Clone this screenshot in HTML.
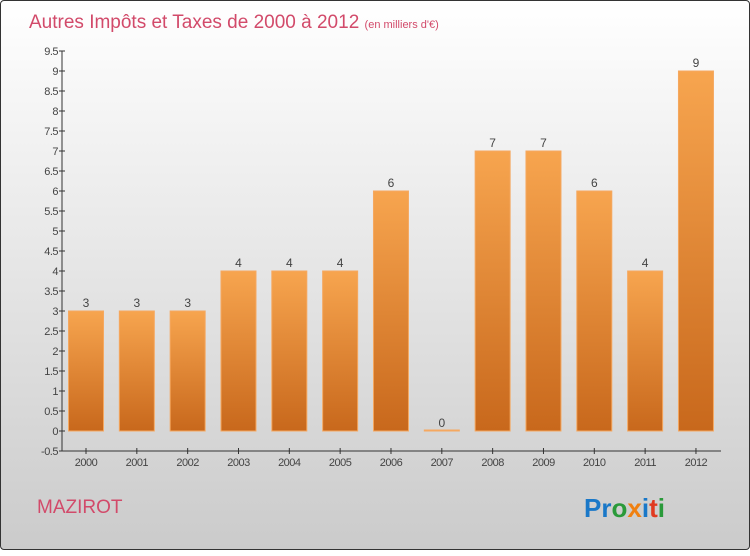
<!DOCTYPE html>
<html><head><meta charset="utf-8"><style>
body{margin:0;width:750px;height:550px;overflow:hidden;font-family:"Liberation Sans","DejaVu Sans",sans-serif}
#wrap{position:absolute;left:0;top:0;width:748px;height:548px;border:1px solid #333;border-radius:4px;background:linear-gradient(#fff,#cbcbcb)}
</style></head><body>
<div id="wrap">
<svg id="chart" width="750" height="550">
<defs><linearGradient id="bg" x1="0" y1="0" x2="0" y2="1"><stop offset="0" stop-color="#f7a54f"/><stop offset="1" stop-color="#c8681c"/></linearGradient></defs>
<text x="28" y="27" font-size="19" fill="#d24a6a">Autres Impôts et Taxes de 2000 à 2012 <tspan font-size="11">(en milliers d'€)</tspan></text>
<text x="36" y="512" font-size="19" fill="#d24a6a">MAZIROT</text>
<text x="583" y="516" font-size="26" font-weight="bold"><tspan fill="#1a78c8">Pr</tspan><tspan fill="#2a9a3a">o</tspan><tspan fill="#f08010">x</tspan><tspan fill="#1a78c8">i</tspan><tspan fill="#e03a20">t</tspan><tspan fill="#2a9a3a">i</tspan></text>
<g id="axes"></g><g id="bars"></g>
</svg></div>
<script>
const years=["2000","2001","2002","2003","2004","2005","2006","2007","2008","2009","2010","2011","2012"];
const values=[3,3,3,4,4,4,6,0,7,7,6,4,9];
const yTicks=[-0.5,0,0.5,1,1.5,2,2.5,3,3.5,4,4.5,5,5.5,6,6.5,7,7.5,8,8.5,9,9.5];
const NS="http://www.w3.org/2000/svg";
const y=v=>430-v*40, x=i=>85+i*50.83;
function mk(t,a,p){const e=document.createElementNS(NS,t);for(const k in a)e.setAttribute(k,a[k]);p.appendChild(e);return e;}
const ax=document.getElementById('axes'),bs=document.getElementById('bars');
const yl=mk('line',{x1:61,y1:y(9.5),x2:61,y2:y(-0.5),stroke:'#333'},ax);


const xl=mk('line',{x1:61,y1:y(-0.5),x2:720,y2:y(-0.5),stroke:'#333'},ax);


yTicks.forEach(v=>{mk('line',{x1:58,x2:64,y1:y(v),y2:y(v),stroke:'#333'},ax);
const t=mk('text',{x:57,y:y(v)+4,'text-anchor':'end','font-size':11,fill:'#444','letter-spacing':'-0.5'},ax);t.textContent=v;

});
years.forEach((yr,i)=>{mk('line',{x1:x(i),x2:x(i),y1:y(-0.5)-3,y2:y(-0.5)+3,stroke:'#333'},ax);
const t=mk('text',{x:x(i),y:465,'text-anchor':'middle','font-size':11,fill:'#444','letter-spacing':'-0.5'},ax);t.textContent=yr;


const v=values[i];const top=Math.min(y(v),y(0)-1),h=Math.max(Math.abs(y(0)-y(v)),1);
const r=mk('rect',{x:x(i)-17.5,y:top,width:35,height:h,fill:'url(#bg)',stroke:'#f5a860','stroke-width':1},bs);


const l=mk('text',{x:x(i),y:y(v)-4,'text-anchor':'middle','font-size':12,fill:'#444'},bs);l.textContent=v;

});
</script>
</body></html>
